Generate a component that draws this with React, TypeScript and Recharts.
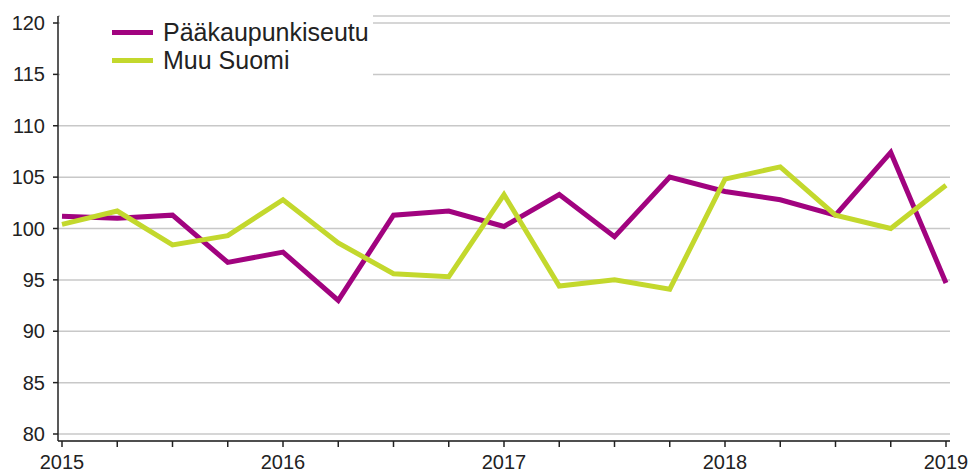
import { LineChart, Line, XAxis, YAxis, CartesianGrid } from 'recharts';

const quarters = [
  '2015Q1', '2015Q2', '2015Q3', '2015Q4',
  '2016Q1', '2016Q2', '2016Q3', '2016Q4',
  '2017Q1', '2017Q2', '2017Q3', '2017Q4',
  '2018Q1', '2018Q2', '2018Q3', '2018Q4',
  '2019Q1',
];

const paakaupunkiseutu = [
  101.2, 101.0, 101.3, 96.7, 97.7, 93.0, 101.3, 101.7,
  100.2, 103.3, 99.2, 105.0, 103.6, 102.8, 101.3, 107.4, 94.7,
];

const muuSuomi = [
  100.4, 101.7, 98.4, 99.3, 102.8, 98.6, 95.6, 95.3,
  103.3, 94.4, 95.0, 94.1, 104.8, 106.0, 101.3, 100.0, 104.2,
];

const yTicks = [80, 85, 90, 95, 100, 105, 110, 115, 120];

const series = [
  { key: 'paak', name: 'Pääkaupunkiseutu', color: '#a1037f' },
  { key: 'muu', name: 'Muu Suomi', color: '#c3d82d' },
];

const data = quarters.map((q, i) => ({
  q,
  paak: paakaupunkiseutu[i],
  muu: muuSuomi[i],
}));

const font = '"Liberation Sans", Arial, sans-serif';

export default function App() {
  return (
    <div style={{ position: 'relative', width: 971, height: 474, fontFamily: font }}>
      <style>{'body{margin:0}'}</style>
      <LineChart
        width={971}
        height={474}
        data={data}
        margin={{ top: 16, right: 21, bottom: 0, left: 0 }}
      >
        <CartesianGrid vertical={false} stroke="#c8c8c8" strokeWidth={1.5} />
        <XAxis
          dataKey="q"
          interval={0}
          padding={{ left: 4, right: 4 }}
          height={33}
          tickSize={6}
          tickMargin={8}
          tickFormatter={(v: string) => (v.endsWith('Q1') ? v.slice(0, 4) : '')}
          tick={{ fill: '#222', fontSize: 20, fontFamily: font }}
          stroke="#222"
          strokeWidth={1.5}
        />
        <YAxis
          domain={[80, 120]}
          ticks={yTicks}
          width={58}
          padding={{ top: 7, bottom: 7 }}
          tickSize={5}
          tickMargin={8}
          tick={{ fill: '#222', fontSize: 20, fontFamily: font }}
          stroke="#222"
          strokeWidth={1.5}
        />
        {series.map((s) => (
          <Line
            key={s.key}
            dataKey={s.key}
            name={s.name}
            type="linear"
            stroke={s.color}
            strokeWidth={5}
            dot={false}
            isAnimationActive={false}
          />
        ))}
      </LineChart>
      <div
        style={{
          position: 'absolute',
          left: 60,
          top: 14,
          width: 313,
          height: 64,
          background: '#fff',
        }}
      >
        {series.map((s, i) => (
          <div
            key={s.key}
            style={{
              position: 'absolute',
              left: 52,
              top: 4 + i * 28,
              height: 28,
              display: 'flex',
              alignItems: 'center',
            }}
          >
            <span style={{ display: 'inline-block', width: 41, height: 5, background: s.color }} />
            <span style={{ marginLeft: 10, fontSize: 25, color: '#222', lineHeight: '28px' }}>
              {s.name}
            </span>
          </div>
        ))}
      </div>
    </div>
  );
}
